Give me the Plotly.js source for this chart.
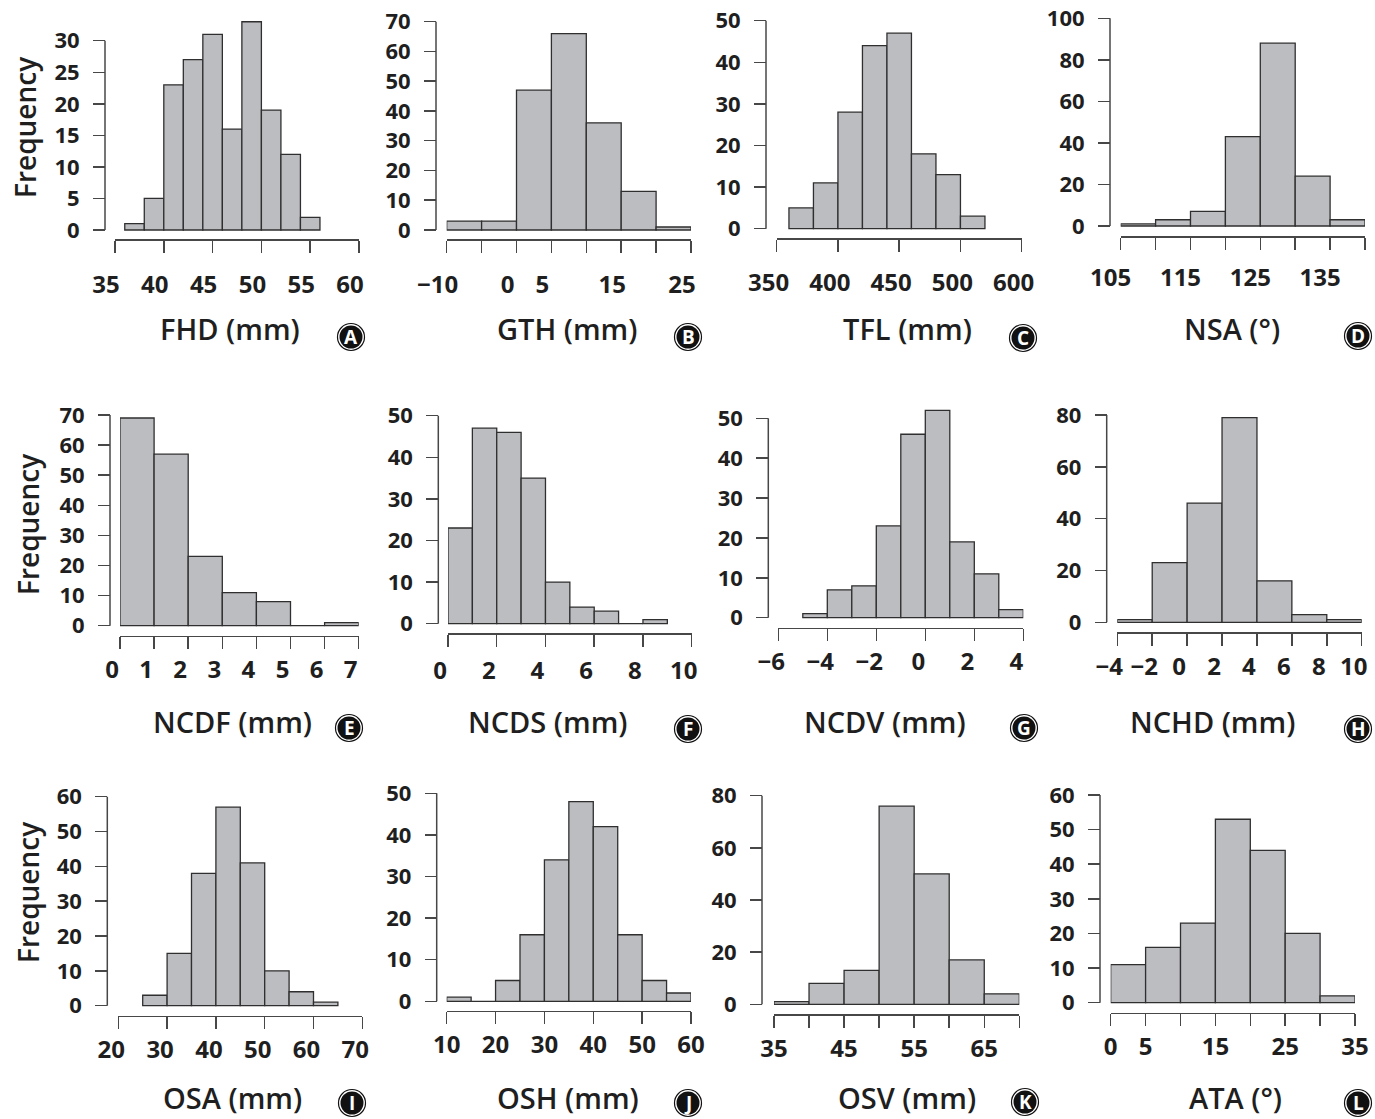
<!DOCTYPE html>
<html><head><meta charset="utf-8">
<script src="https://cdn.plot.ly/plotly-3.0.1.min.js"></script>
<style>html,body{margin:0;padding:0;background:#fff}#chart{width:1375px;height:1119px}</style>
</head><body><div id="chart"></div>
<script>
// ---------------- DATA ----------------
const FHD_edges = [36,38,40,42,44,46,48,50,52,54,56];
const FHD_counts = [1,5,23,27,31,16,33,19,12,2];
const FHD_xticks = [35,40,45,50,55,60];
const FHD_xlabels = ['35','40','45','50','55','60'];
const FHD_yticks = [0,5,10,15,20,25,30];

const GTH_edges = [-10,-5,0,5,10,15,20,25];
const GTH_counts = [3,3,47,66,36,13,1];
const GTH_xticks = [-10,-5,0,5,10,15,20,25];
const GTH_xlabels = ['\u221210','','0','5','','15','','25'];
const GTH_yticks = [0,10,20,30,40,50,60,70];

const TFL_edges = [360,380,400,420,440,460,480,500,520];
const TFL_counts = [5,11,28,44,47,18,13,3];
const TFL_xticks = [350,400,450,500,550];
const TFL_xlabels = ['350','400','450','500','600'];
const TFL_yticks = [0,10,20,30,40,50];

const NSA_edges = [105,110,115,120,125,130,135,140];
const NSA_counts = [1,3,7,43,88,24,3];
const NSA_xticks = [105,110,115,120,125,130,135,140];
const NSA_xlabels = ['105','','115','','125','','135',''];
const NSA_yticks = [0,20,40,60,80,100];

const NCDF_edges = [0,1,2,3,4,5,6,7];
const NCDF_counts = [69,57,23,11,8,0,1];
const NCDF_xticks = [0,1,2,3,4,5,6,7];
const NCDF_xlabels = ['0','1','2','3','4','5','6','7'];
const NCDF_yticks = [0,10,20,30,40,50,60,70];

const NCDS_edges = [0,1,2,3,4,5,6,7,8,9];
const NCDS_counts = [23,47,46,35,10,4,3,0,1];
const NCDS_xticks = [0,2,4,6,8,10];
const NCDS_xlabels = ['0','2','4','6','8','10'];
const NCDS_yticks = [0,10,20,30,40,50];

const NCDV_edges = [-5,-4,-3,-2,-1,0,1,2,3,4];
const NCDV_counts = [1,7,8,23,46,52,19,11,2];
const NCDV_xticks = [-6,-4,-2,0,2,4];
const NCDV_xlabels = ['\u22126','\u22124','\u22122','0','2','4'];
const NCDV_yticks = [0,10,20,30,40,50];

const NCHD_edges = [-4,-2,0,2,4,6,8,10];
const NCHD_counts = [1,23,46,79,16,3,1];
const NCHD_xticks = [-4,-2,0,2,4,6,8,10];
const NCHD_xlabels = ['\u22124','\u22122','0','2','4','6','8','10'];
const NCHD_yticks = [0,20,40,60,80];

const OSA_edges = [25,30,35,40,45,50,55,60,65];
const OSA_counts = [3,15,38,57,41,10,4,1];
const OSA_xticks = [20,30,40,50,60,70];
const OSA_xlabels = ['20','30','40','50','60','70'];
const OSA_yticks = [0,10,20,30,40,50,60];

const OSH_edges = [10,15,20,25,30,35,40,45,50,55,60];
const OSH_counts = [1,0,5,16,34,48,42,16,5,2];
const OSH_xticks = [10,20,30,40,50,60];
const OSH_xlabels = ['10','20','30','40','50','60'];
const OSH_yticks = [0,10,20,30,40,50];

const OSV_edges = [35,40,45,50,55,60,65,70];
const OSV_counts = [1,8,13,76,50,17,4];
const OSV_xticks = [35,40,45,50,55,60,65,70];
const OSV_xlabels = ['35','','45','','55','','65',''];
const OSV_yticks = [0,20,40,60,80];

const ATA_edges = [0,5,10,15,20,25,30,35];
const ATA_counts = [11,16,23,53,44,20,2];
const ATA_xticks = [0,5,10,15,20,25,30,35];
const ATA_xlabels = ['0','5','','15','','25','','35'];
const ATA_yticks = [0,10,20,30,40,50,60];

const panelTitles = ['FHD (mm)','GTH (mm)','TFL (mm)','NSA (\u00B0)',
                     'NCDF (mm)','NCDS (mm)','NCDV (mm)','NCHD (mm)',
                     'OSA (mm)','OSH (mm)','OSV (mm)','ATA (\u00B0)'];
const panelLetters = ['A','B','C','D','E','F','G','H','I','J','K','L'];
const yTitle = 'Frequency';

const panels = [
  [FHD_edges,FHD_counts,FHD_xticks,FHD_xlabels,FHD_yticks],
  [GTH_edges,GTH_counts,GTH_xticks,GTH_xlabels,GTH_yticks],
  [TFL_edges,TFL_counts,TFL_xticks,TFL_xlabels,TFL_yticks],
  [NSA_edges,NSA_counts,NSA_xticks,NSA_xlabels,NSA_yticks],
  [NCDF_edges,NCDF_counts,NCDF_xticks,NCDF_xlabels,NCDF_yticks],
  [NCDS_edges,NCDS_counts,NCDS_xticks,NCDS_xlabels,NCDS_yticks],
  [NCDV_edges,NCDV_counts,NCDV_xticks,NCDV_xlabels,NCDV_yticks],
  [NCHD_edges,NCHD_counts,NCHD_xticks,NCHD_xlabels,NCHD_yticks],
  [OSA_edges,OSA_counts,OSA_xticks,OSA_xlabels,OSA_yticks],
  [OSH_edges,OSH_counts,OSH_xticks,OSH_xlabels,OSH_yticks],
  [OSV_edges,OSV_counts,OSV_xticks,OSV_xlabels,OSV_yticks],
  [ATA_edges,ATA_counts,ATA_xticks,ATA_xlabels,ATA_yticks]
];

// ---------------- LAYOUT GEOMETRY (pixels) ----------------
const W = 1375, H = 1119;
// [yAxisX, zeroY, topTickY, xLineY, firstTickX, lastTickX, xLabelCenterY, xLabelShift]
const geom = [
  [105, 230, 40.7, 239, 115, 359, 284, -9],
  [436, 230, 21.7, 239, 446.7, 691, 284, -9],
  [766, 228.7, 20.7, 238, 776.7, 1021.7, 282, -8],
  [1110, 226, 18.3, 236, 1120.7, 1365, 277, -10],
  [110, 625.7, 415, 635.7, 120, 358.7, 674, -8],
  [438.3, 623.7, 415.7, 633, 448, 691.7, 670, -8],
  [768.3, 617.7, 418.3, 627.7, 778.3, 1023.3, 665, -7],
  [1106.7, 622.3, 415, 632.3, 1117.3, 1361.7, 670, -8],
  [107.3, 1005.7, 796.7, 1015.7, 118.3, 362.3, 1045, -7],
  [436.7, 1001.3, 793.3, 1010.7, 446.7, 691, 1043, 0],
  [762, 1004.3, 795.7, 1014.3, 774, 1019.3, 1039, 0],
  [1100, 1002.7, 795, 1012.7, 1110.7, 1355, 1036, 0]
];
const titlePos = [[230,328],[567,328],[907,328],[1232,328],
                  [233,721],[548,721],[885,721],[1212,721],
                  [232,1097],[568,1097],[907,1097],[1235,1097]];
const letterPos = [[351,337],[688,337],[1023,338],[1358,336],
                   [349,728],[688,729],[1024,728],[1358,729],
                   [352,1103],[688,1103],[1025,1102],[1358,1103]];
const freqPos = [[25,128],[28,525],[28,893]];

const FONT = '"Open Sans", "Liberation Sans", Arial, sans-serif';
const TXT = '#1f1f1f';
const AXC = '#474747';
const BARFILL = '#bcbdc1';
const BAREDGE = '#2f2f2f';
const XTICKSIZE = 24;
const YTICKSIZE = 22;

const data = [];
const layout = {
  width: W, height: H,
  margin: {l:0, r:0, t:0, b:0},
  paper_bgcolor: '#ffffff', plot_bgcolor: 'rgba(0,0,0,0)',
  showlegend: false,
  font: {family: FONT, color: TXT},
  shapes: [], annotations: []
};

panels.forEach((p, i) => {
  const [edges, counts, xticks, xlabels, yticks] = p;
  const [yAxX, zeroY, topY, lineY, fx, lx, labY, labShift] = geom[i];
  const n = i + 1;
  const xa = 'xaxis' + (n === 1 ? '' : n), ya = 'yaxis' + (n === 1 ? '' : n);
  const xr = 'x' + (n === 1 ? '' : n), yr = 'y' + (n === 1 ? '' : n);

  const centers = [], widths = [];
  for (let k = 0; k < counts.length; k++) {
    centers.push((edges[k] + edges[k+1]) / 2);
    widths.push(edges[k+1] - edges[k]);
  }
  data.push({
    type: 'bar', x: centers, y: counts, width: widths,
    xaxis: xr, yaxis: yr,
    marker: {color: BARFILL, line: {color: BAREDGE, width: 1.3}},
    hoverinfo: 'x+y'
  });

  const ytop = yticks[yticks.length - 1];
  const ppu = (zeroY - topY) / ytop;
  const maxC = Math.max(...counts);
  const topPx = Math.min(topY, zeroY - maxC * ppu) - 3;
  const yMin = -(lineY - zeroY) / ppu;
  const yMax = (zeroY - topPx) / ppu;

  layout[xa] = {
    domain: [fx / W, lx / W], anchor: yr,
    range: [xticks[0], xticks[xticks.length - 1]],
    tickmode: 'array', tickvals: xticks, ticktext: xlabels,
    ticks: 'outside', ticklen: 12, tickwidth: 1.5, tickcolor: AXC,
    showline: true, linecolor: AXC, linewidth: 1.5,
    showgrid: false, zeroline: false, fixedrange: true,
    ticklabelstandoff: Math.max(0, labY - lineY - 33),
    ticklabelshift: labShift,
    tickfont: {family: FONT, size: XTICKSIZE, color: TXT, weight: 'bold'}
  };
  layout[ya] = {
    domain: [1 - lineY / H, 1 - topPx / H], anchor: 'free', position: yAxX / W,
    range: [yMin, yMax],
    tickmode: 'array', tickvals: yticks,
    ticks: 'outside', ticklen: 12, tickwidth: 1.5, tickcolor: AXC,
    showline: false, showgrid: false, zeroline: false, fixedrange: true,
    ticklabelstandoff: 9,
    tickfont: {family: FONT, size: YTICKSIZE, color: TXT, weight: 'bold'}
  };
  // y axis line spanning first to last tick (R style)
  layout.shapes.push({
    type: 'line', xref: 'paper', yref: yr,
    x0: yAxX / W, x1: yAxX / W, y0: yticks[0], y1: ytop,
    line: {color: AXC, width: 1.5}, layer: 'above'
  });

  // x title
  layout.annotations.push({
    text: panelTitles[i], xref: 'paper', yref: 'paper',
    x: titlePos[i][0] / W, y: 1 - titlePos[i][1] / H,
    xanchor: 'center', yanchor: 'middle', showarrow: false,
    font: {family: FONT, size: 29, color: TXT, weight: 600}
  });
  // circled letter
  const cx = letterPos[i][0] / W, cy = 1 - letterPos[i][1] / H;
  layout.shapes.push({
    type: 'circle', xref: 'paper', yref: 'paper',
    xsizemode: 'pixel', ysizemode: 'pixel', xanchor: cx, yanchor: cy,
    x0: -13.5, x1: 13.5, y0: -13.5, y1: 13.5,
    fillcolor: '#ffffff', line: {color: '#111', width: 1.2}
  });
  layout.shapes.push({
    type: 'circle', xref: 'paper', yref: 'paper',
    xsizemode: 'pixel', ysizemode: 'pixel', xanchor: cx, yanchor: cy,
    x0: -11.5, x1: 11.5, y0: -11.5, y1: 11.5,
    fillcolor: '#111111', line: {color: '#111', width: 0}
  });
  layout.annotations.push({
    text: panelLetters[i], xref: 'paper', yref: 'paper',
    x: cx, y: cy, xanchor: 'center', yanchor: 'middle', showarrow: false,
    font: {family: FONT, size: 19, color: '#ffffff', weight: 700}
  });
});

freqPos.forEach(fp => {
  layout.annotations.push({
    text: yTitle, xref: 'paper', yref: 'paper',
    x: fp[0] / W, y: 1 - fp[1] / H, textangle: -90,
    xanchor: 'center', yanchor: 'middle', showarrow: false,
    font: {family: FONT, size: 28, color: TXT, weight: 600}
  });
});

Plotly.newPlot('chart', data, layout, {displayModeBar: false, staticPlot: true});
</script>
</body></html>
